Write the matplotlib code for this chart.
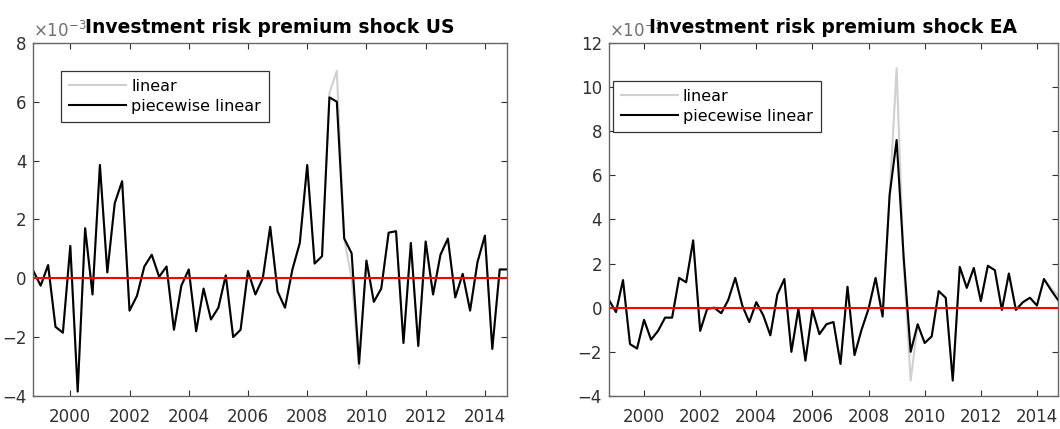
import numpy as np
import matplotlib
matplotlib.use("Agg")
import matplotlib.pyplot as plt

plt.rcParams['font.family'] = ['DejaVu Sans']
plt.rcParams['mathtext.fontset'] = 'dejavusans'

# quarterly dates, 1998Q4 .. 2014Q4
dates = np.arange(1998.75, 2014.76, 0.25)

# values in units of 1e-3
us_pw = [0.25, -0.25, 0.45, -1.65, -1.85, 1.1, -3.85, 1.7, -0.55, 3.85,
         0.2, 2.55, 3.3, -1.1, -0.6, 0.4, 0.8, 0.05, 0.4, -1.75,
         -0.25, 0.3, -1.8, -0.35, -1.4, -1.0, 0.1, -2.0, -1.75, 0.25,
         -0.55, 0.0, 1.75, -0.45, -1.0, 0.3, 1.2, 3.85, 0.5, 0.75,
         6.15, 6.0, 1.35, 0.85, -2.9, 0.6, -0.8, -0.35, 1.55, 1.6,
         -2.2, 1.2, -2.3, 1.25, -0.55, 0.8, 1.35, -0.65, 0.15, -1.1,
         0.55, 1.45, -2.4, 0.3, 0.3]
us_lin = [0.25, -0.25, 0.45, -1.65, -1.85, 1.1, -3.85, 1.7, -0.55, 3.85,
          0.2, 2.55, 3.3, -1.1, -0.6, 0.4, 0.8, 0.05, 0.4, -1.75,
          -0.25, 0.3, -1.8, -0.35, -1.4, -1.0, 0.1, -2.0, -1.75, 0.25,
          -0.55, 0.0, 1.75, -0.45, -1.0, 0.3, 1.2, 3.85, 0.5, 0.75,
          6.3, 7.05, 1.35, 0.0, -3.05, 0.6, -0.8, -0.35, 1.55, 1.6,
          -2.2, 1.2, -2.3, 1.25, -0.55, 0.8, 1.35, -0.65, 0.15, -1.1,
          0.55, 1.45, -2.4, 0.3, 0.3]

ea_pw = [0.35, -0.2, 1.25, -1.65, -1.85, -0.55, -1.45, -1.05, -0.45, -0.45,
         1.35, 1.15, 3.05, -1.05, -0.05, 0.0, -0.25, 0.35, 1.35, 0.1,
         -0.65, 0.25, -0.35, -1.25, 0.6, 1.3, -2.0, -0.05, -2.4, -0.1,
         -1.2, -0.75, -0.65, -2.55, 0.95, -2.15, -1.0, -0.05, 1.35, -0.4,
         5.1, 7.6, 2.3, -2.0, -0.75, -1.6, -1.3, 0.75, 0.45, -3.3,
         1.85, 0.9, 1.8, 0.3, 1.9, 1.7, -0.1, 1.55, -0.1, 0.25,
         0.45, 0.1, 1.3, 0.8, 0.35]
ea_lin = [0.35, -0.2, 1.25, -1.65, -1.85, -0.55, -1.45, -1.05, -0.45, -0.45,
          1.35, 1.15, 3.05, -1.05, -0.05, 0.0, -0.25, 0.35, 1.35, 0.1,
          -0.65, 0.25, -0.35, -1.25, 0.6, 1.3, -2.0, -0.05, -2.4, -0.1,
          -1.2, -0.75, -0.65, -2.55, 0.95, -2.15, -1.0, -0.05, 1.35, -0.4,
          5.1, 10.85, 2.0, -3.3, -0.75, -1.6, -1.3, 0.75, 0.45, -3.3,
          1.85, 0.9, 1.8, 0.3, 1.9, 1.7, -0.1, 1.55, -0.1, 0.25,
          0.45, 0.1, 1.3, 0.9, 0.55]

xticks = [2000, 2002, 2004, 2006, 2008, 2010, 2012, 2014]

fig = plt.figure(figsize=(10.6, 4.29), dpi=100)
ax1 = fig.add_axes([0.0314, 0.077, 0.447, 0.823])
ax2 = fig.add_axes([0.5745, 0.077, 0.4236, 0.823])

panels = [
    (ax1, us_lin, us_pw, 'Investment risk premium shock US', [-4, 8], range(-4, 9, 2), (0.058, 0.921)),
    (ax2, ea_lin, ea_pw, 'Investment risk premium shock EA', [-4, 12], range(-4, 13, 2), (0.008, 0.892)),
]

txtc = '#303030'
for ax, lin, pw, title, ylim, yt, legpos in panels:
    ax.plot(dates, lin, color='#d0d0d0', lw=1.5, label='linear')
    ax.plot(dates, pw, color='black', lw=1.5, label='piecewise linear')
    ax.axhline(0, color='red', lw=1.5)
    ax.set_xlim(1998.75, 2014.75)
    ax.set_ylim(ylim)
    ax.set_xticks(xticks)
    ax.set_yticks(list(yt))
    ax.tick_params(direction='in', top=True, right=True, labelsize=12,
                   colors=txtc, length=4, width=0.8)
    ax.tick_params(axis='x', pad=9)
    ax.tick_params(axis='y', pad=5)
    for s in ax.spines.values():
        s.set_color('#666666')
        s.set_linewidth(1.0)
    ax.text(0.0, 1.005, r'$\times10^{-3}$', transform=ax.transAxes, fontsize=12,
            color='#707070', ha='left', va='bottom')
    ax.set_title(title, fontsize=13.5, fontweight='bold', pad=7)
    leg = ax.legend(loc='upper left', bbox_to_anchor=legpos, fontsize=11.5,
                    fancybox=False, framealpha=1, edgecolor='#333333',
                    handlelength=3.6, handletextpad=0.3, borderaxespad=0,
                    labelspacing=0.3, borderpad=0.5)
    leg.get_frame().set_linewidth(0.9)

fig.savefig('out.png', dpi=100)
